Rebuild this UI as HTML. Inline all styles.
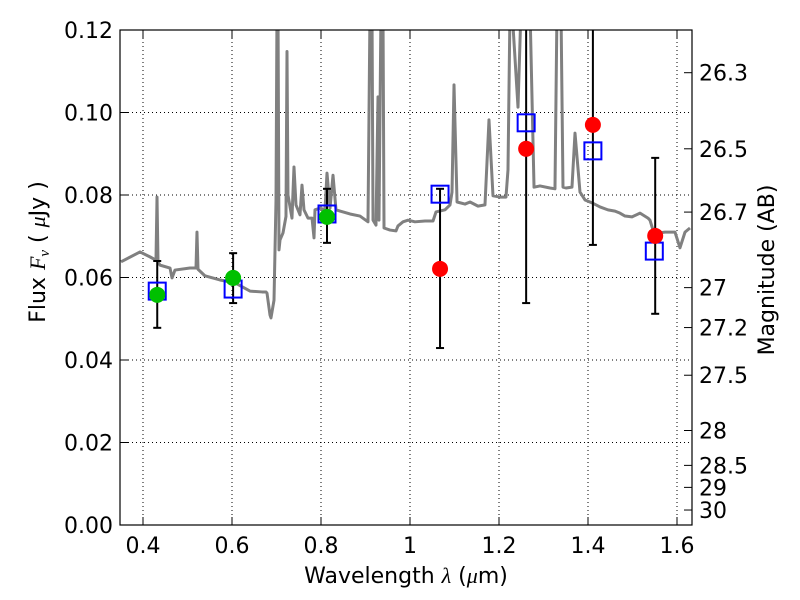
<!DOCTYPE html>
<html><head><meta charset="utf-8"><style>
body{margin:0;background:#fff;}
svg{display:block;font-family:"DejaVu Sans","Liberation Sans",sans-serif;}
</style></head><body>
<svg id="chart" width="800" height="600" viewBox="0 0 800 600">
<g id="grid"></g>
<g id="plotc" clip-path="url(#clp)"></g>
<defs><clipPath id="clp"><rect x="120" y="30" width="572" height="495"/></clipPath></defs>
<rect x="120" y="30" width="572" height="495" fill="none" stroke="#000" stroke-width="1.2"/>
<g id="axes"></g>
<text x="406" y="583" font-size="22" text-anchor="middle">Wavelength  <tspan font-family="Liberation Serif" font-style="italic">λ</tspan> (<tspan font-family="Liberation Serif" font-style="italic">μ</tspan>m)</text>
<text transform="translate(45,252) rotate(-90)" font-size="22" text-anchor="middle">Flux  <tspan font-family="Liberation Serif" font-style="italic">F<tspan font-size="15" dy="4">ν</tspan></tspan><tspan dy="-4">  (  </tspan><tspan font-family="Liberation Serif" font-style="italic">μ</tspan>Jy )</text>
<text transform="translate(774,270) rotate(-90)" font-size="22" text-anchor="middle">Magnitude (AB)</text>
</svg>
<script>
const specLam=[0.3506,0.3933,0.4157,0.4292,0.4315,0.4337,0.4382,0.4607,0.4652,0.4719,0.5056,0.5191,0.5213,0.5236,0.5393,0.5730,0.6067,0.6404,0.6674,0.6764,0.6787,0.6854,0.6876,0.6944,0.6989,0.7011,0.7034,0.7056,0.7079,0.7146,0.7213,0.7236,0.7258,0.7348,0.7393,0.7438,0.7528,0.7573,0.7618,0.7708,0.7798,0.7843,0.7865,0.7978,0.8090,0.8135,0.8202,0.8270,0.8337,0.8427,0.8652,0.8876,0.9056,0.9101,0.9146,0.9169,0.9236,0.9281,0.9303,0.9348,0.9393,0.9416,0.9551,0.9685,0.9730,0.9843,0.9955,1.0112,1.0337,1.0517,1.0584,1.0787,1.0899,1.0944,1.0989,1.1057,1.1236,1.1349,1.1528,1.1685,1.1775,1.1865,1.2022,1.2157,1.2202,1.2247,1.2292,1.2427,1.2494,1.2697,1.2787,1.2921,1.3146,1.3258,1.3303,1.3393,1.3438,1.3506,1.3640,1.3708,1.3820,1.3933,1.4090,1.4270,1.4449,1.4607,1.4719,1.4831,1.4989,1.5169,1.5348,1.5393,1.5461,1.5573,1.5730,1.5888,1.5955,1.6067,1.6180,1.6292];
const specFlux=[0.0638,0.0662,0.0650,0.0642,0.0795,0.0638,0.0630,0.0623,0.0599,0.0618,0.0623,0.0623,0.0710,0.0620,0.0604,0.0594,0.0587,0.0567,0.0565,0.0565,0.0562,0.0509,0.0502,0.0545,0.0788,0.125,0.125,0.0667,0.0691,0.0708,0.0748,0.1148,0.0800,0.0744,0.0868,0.0776,0.0752,0.0824,0.0764,0.0744,0.0744,0.0696,0.0764,0.0768,0.0764,0.0853,0.0768,0.0848,0.0764,0.0761,0.0754,0.0749,0.0735,0.125,0.125,0.0739,0.0727,0.1038,0.0739,0.125,0.125,0.0720,0.0715,0.0713,0.0725,0.0735,0.0739,0.0735,0.0737,0.0737,0.0759,0.0764,0.0776,0.0807,0.1067,0.0783,0.0778,0.0783,0.0773,0.0776,0.0982,0.0798,0.0795,0.0795,0.0861,0.125,0.125,0.1013,0.125,0.125,0.0819,0.0822,0.0817,0.0815,0.125,0.125,0.0819,0.0817,0.0819,0.0950,0.0807,0.0788,0.0781,0.0771,0.0764,0.0761,0.0756,0.0749,0.0747,0.0756,0.0744,0.0739,0.0715,0.0708,0.0710,0.0710,0.0710,0.0672,0.0710,0.0720,0.0710];
const greenLam=[0.432,0.6025,0.8135];
const greenFlux=[0.0558,0.0599,0.0747];
const greenHi=[0.0640,0.0659,0.0815];
const greenLo=[0.0478,0.0538,0.0684];
const redLam=[1.0675,1.261,1.411,1.551];
const redFlux=[0.0621,0.0912,0.0970,0.0701];
const redHi=[0.0815,0.14,0.14,0.0890];
const redLo=[0.0429,0.0538,0.0679,0.0512];
const boxLam=[0.432,0.6025,0.8135,1.0675,1.261,1.411,1.549];
const boxFlux=[0.0567,0.0572,0.0754,0.0802,0.0975,0.0907,0.0664];
const xTicks=[0.4,0.6,0.8,1.0,1.2,1.4,1.6];
const xTickLabels=["0.4","0.6","0.8","1","1.2","1.4","1.6"];
const yTicks=[0,0.02,0.04,0.06,0.08,0.10,0.12];
const yTickLabels=["0.00","0.02","0.04","0.06","0.08","0.10","0.12"];
const magTicks=[26.3,26.5,26.7,27,27.2,27.5,28,28.5,29,30];
const magTickLabels=["26.3","26.5","26.7","27","27.2","27.5","28","28.5","29","30"];

const NS="http://www.w3.org/2000/svg";
const X=l=>120.75+(l-0.35)*445;
const Y=f=>525-f*4125;
const magToFlux=m=>Math.pow(10,(23.9-m)/2.5);
function mk(t,a,p){const e=document.createElementNS(NS,t);for(const k in a)e.setAttribute(k,a[k]);p.appendChild(e);return e;}
const grid=document.getElementById('grid'),plot=document.getElementById('plotc'),axes=document.getElementById('axes');

xTicks.forEach((v,i)=>{
  const g=mk('line',{x1:X(v),x2:X(v),y1:30,y2:525,stroke:'#000','stroke-width':1,'stroke-dasharray':'1,3'},grid);
  
  
  mk('line',{x1:X(v),x2:X(v),y1:525,y2:517,stroke:'#000'},axes);
  mk('line',{x1:X(v),x2:X(v),y1:30,y2:38,stroke:'#000'},axes);
  const t=mk('text',{x:X(v),y:553,'font-size':22,'text-anchor':'middle'},axes);
  t.textContent=xTickLabels[i];
  
  
});
yTicks.forEach((v,i)=>{
  const g=mk('line',{x1:120,x2:692,y1:Y(v),y2:Y(v),stroke:'#000','stroke-width':1,'stroke-dasharray':'1,3'},grid);
  
  
  mk('line',{x1:120,x2:128,y1:Y(v),y2:Y(v),stroke:'#000'},axes);
  const t=mk('text',{x:113,y:Y(v)+8,'font-size':22,'text-anchor':'end'},axes);
  t.textContent=yTickLabels[i];
  
  
});
magTicks.forEach((m,i)=>{
  const y=Y(magToFlux(m));
  mk('line',{x1:684,x2:692,y1:y,y2:y,stroke:'#000'},axes);
  const t=mk('text',{x:699,y:y+8,'font-size':22},axes);
  t.textContent=magTickLabels[i];
  
  
});
const sp=mk('polyline',{points:specLam.map((l,i)=>X(l)+','+Y(specFlux[i])).join(' '),fill:'none',stroke:'#808080','stroke-width':3,'stroke-linejoin':'round'},plot);



function errbar(l,lo,hi){
  const x=X(l);
  const e=mk('line',{x1:x,x2:x,y1:Y(hi),y2:Y(lo),stroke:'#000','stroke-width':2},plot);
  
  
  mk('line',{x1:x-4,x2:x+4,y1:Y(hi),y2:Y(hi),stroke:'#000','stroke-width':2},plot);
  mk('line',{x1:x-4,x2:x+4,y1:Y(lo),y2:Y(lo),stroke:'#000','stroke-width':2},plot);
}
greenLam.forEach((l,i)=>errbar(l,greenLo[i],greenHi[i]));
redLam.forEach((l,i)=>errbar(l,redLo[i],redHi[i]));
boxLam.forEach((l,i)=>{
  const r=mk('rect',{x:X(l)-8.5,y:Y(boxFlux[i])-8.5,width:17,height:17,fill:'none',stroke:'#0000ff','stroke-width':2},plot);
  
  
});
greenLam.forEach((l,i)=>{
  const c=mk('circle',{cx:X(l),cy:Y(greenFlux[i]),r:8,fill:'#00c000'},plot);
  
  
});
redLam.forEach((l,i)=>{
  const c=mk('circle',{cx:X(l),cy:Y(redFlux[i]),r:8,fill:'#ff0000'},plot);
  
  
});
</script>
</body></html>
